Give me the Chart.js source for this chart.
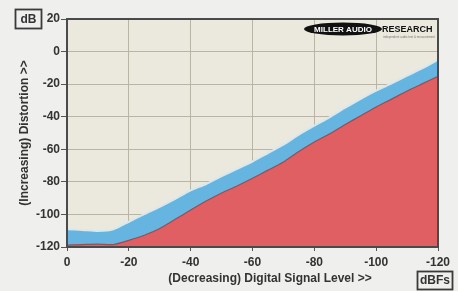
<!DOCTYPE html>
<html>
<head>
<meta charset="utf-8">
<script src="https://cdn.jsdelivr.net/npm/chart.js@4"></script>
<style>
  html, body { margin: 0; padding: 0; background: #efefed; }
  #wrap { position: relative; width: 458px; height: 291px; }
</style>
</head>
<body>
<div id="wrap"><canvas id="c" width="458" height="291"></canvas></div>
<script>
// Digital signal level (dBFS), x axis
const levels = [0, -5, -10, -15, -20, -25, -30, -35, -40, -45, -50, -55, -60,
                -65, -70, -75, -80, -85, -90, -95, -100, -105, -110, -115, -120];
// Upper (blue) band edge: distortion + noise
const bandTop = [-109.1, -109.5, -110.2, -109.2, -104.5, -99.8, -95.3, -90.4, -85.2, -81.3,
                 -76.5, -72.0, -67.5, -62.3, -57.2, -51.0, -45.5, -40.2, -34.5, -29.0,
                 -24.0, -19.5, -14.8, -10.2, -5.0];
// Lower (red) edge: distortion
const distortion = [-118.8, -118.5, -118.2, -118.5, -115.9, -112.8, -108.6, -103.0, -97.3, -91.8,
                    -86.8, -82.5, -77.8, -72.8, -67.8, -61.3, -55.5, -50.5, -44.8, -39.4,
                    -34.0, -29.2, -24.2, -19.7, -15.2];
const xTicks = [0, -20, -40, -60, -80, -100, -120];
const yTicks = [20, 0, -20, -40, -60, -80, -100, -120];

const xTitle = '(Decreasing) Digital Signal Level >>';
const yTitle = '(Increasing) Distortion >>';
const yUnit = 'dB';
const xUnit = 'dBFs';

const FONT = '"Liberation Sans", Arial, sans-serif';

const extras = {
  id: 'extras',
  beforeDraw(chart) {
    const {ctx, chartArea: a} = chart;
    ctx.save();
    ctx.fillStyle = '#ebe9dd';
    ctx.fillRect(a.left, a.top, a.right - a.left, a.bottom - a.top);
    ctx.restore();
  },
  afterDatasetsDraw(chart) {
    const {ctx, chartArea: a} = chart;
    ctx.save();
    // logo
    ctx.fillStyle = '#111';
    ctx.beginPath();
    ctx.ellipse(343, 29, 39, 6.5, 0, 0, Math.PI * 2);
    ctx.fill();
    ctx.fillStyle = '#fff';
    ctx.font = 'bold 8px ' + FONT;
    ctx.textAlign = 'center';
    ctx.textBaseline = 'middle';
    ctx.fillText('MILLER AUDIO', 343, 29.5, 68);
    ctx.fillStyle = '#111';
    ctx.textAlign = 'left';
    ctx.font = 'bold 9px ' + FONT;
    ctx.fillText('RESEARCH', 382, 29.5, 55);
    ctx.fillStyle = '#777';
    ctx.font = '3.5px ' + FONT;
    ctx.fillText('independent audio test & measurement', 383, 37, 52);
    // plot frame
    ctx.strokeStyle = '#4a4a4a';
    ctx.lineWidth = 2;
    ctx.strokeRect(a.left, a.top, a.right - a.left, a.bottom - a.top);
    ctx.restore();
  },
  afterDraw(chart) {
    const {ctx} = chart;
    ctx.save();
    ctx.fillStyle = '#333';
    ctx.font = 'bold 12px ' + FONT;
    ctx.textAlign = 'center';
    ctx.textBaseline = 'middle';
    ctx.fillText(xTitle, 270, 279);
    // unit boxes
    ctx.strokeStyle = '#3a3a3a';
    ctx.lineWidth = 1.8;
    ctx.strokeRect(15.5, 9.5, 26, 19);
    ctx.fillText(yUnit, 28.5, 19.5);
    ctx.strokeRect(417.5, 271.5, 35, 18);
    ctx.fillText(xUnit, 435, 281);
    ctx.restore();
  }
};

const ctx = document.getElementById('c').getContext('2d');
new Chart(ctx, {
  type: 'line',
  data: {
    datasets: [
      {
        label: 'Distortion',
        data: levels.map((l, i) => ({x: l, y: distortion[i]})),
        borderColor: '#9c4c50',
        borderWidth: 1.2,
        backgroundColor: '#e05f62',
        fill: 'start',
        pointRadius: 0,
        tension: 0.2,
        order: 0
      },
      {
        label: 'Distortion + noise',
        data: levels.map((l, i) => ({x: l, y: bandTop[i]})),
        borderColor: '#d6e8f0',
        borderWidth: 2,
        backgroundColor: '#66b5e0',
        fill: 'start',
        pointRadius: 0,
        tension: 0.2,
        order: 1
      }
    ]
  },
  options: {
    responsive: false,
    animation: false,
    devicePixelRatio: 1,
    layout: { padding: { top: 19, right: 20, left: 0, bottom: 0 } },
    plugins: { legend: { display: false }, tooltip: { enabled: false } },
    scales: {
      x: {
        type: 'linear',
        min: -120, max: 0,
        reverse: true,
        afterBuildTicks: s => { s.ticks = xTicks.map(v => ({value: v})); },
        afterFit: s => { s.height = 44; },
        grid: { color: '#b8b4a6', lineWidth: 1, tickLength: 4, tickColor: '#555' },
        border: { display: false },
        ticks: { color: '#333', font: { family: FONT, size: 12, weight: 'bold' }, padding: 4, maxRotation: 0 }
      },
      y: {
        min: -120, max: 20,
        afterBuildTicks: s => { s.ticks = yTicks.map(v => ({value: v})); },
        afterFit: s => { s.width = 67; },
        grid: { color: '#b8b4a6', lineWidth: 1, tickLength: 6, tickColor: '#555' },
        border: { display: false },
        ticks: { color: '#333', font: { family: FONT, size: 12, weight: 'bold' }, padding: 1 },
        title: {
          display: true,
          text: yTitle,
          color: '#333',
          font: { family: FONT, size: 12, weight: 'bold' },
          padding: { top: 17, bottom: 0 }
        }
      }
    }
  },
  plugins: [extras]
});
</script>
</body>
</html>
